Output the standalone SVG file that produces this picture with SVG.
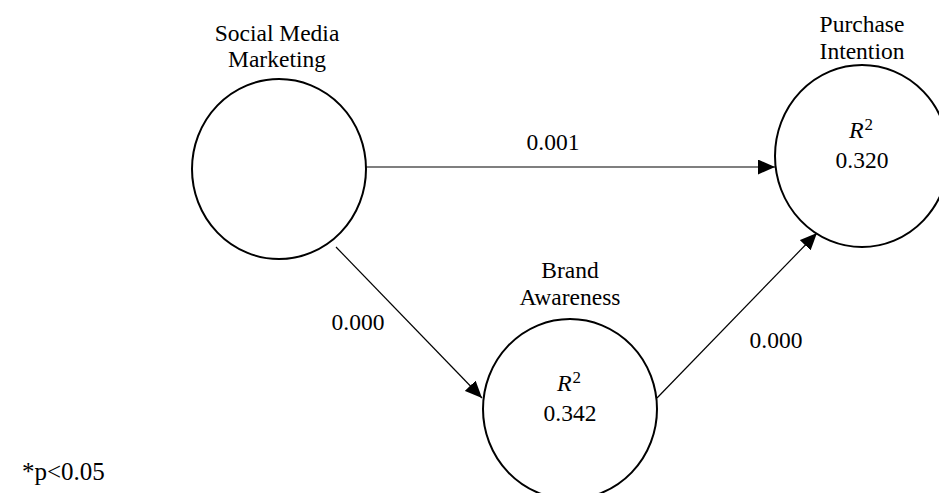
<svg xmlns="http://www.w3.org/2000/svg" width="939" height="493" viewBox="0 0 939 493">
<defs>
<style>
text{font-family:"Liberation Serif","Times New Roman",serif;font-size:23.5px;fill:#000;text-anchor:middle}
.node{fill:#fff;stroke:#000;stroke-width:2}
.edge{stroke:#000;stroke-width:1.2;fill:none;marker-end:url(#arr)}
.r{font-style:italic;font-size:24px}
.sup{font-style:normal;font-size:17px}
</style>
<marker id="arr" markerWidth="17" markerHeight="15" refX="17" refY="7.5" orient="auto" markerUnits="userSpaceOnUse">
<path d="M0,0 L17,7.5 L0,15 Z" fill="#000"/>
</marker>
</defs>
<rect width="939" height="493" fill="#fff"/>
<g id="connectors">
<line class="edge" x1="366" y1="167" x2="775" y2="167"/>
<line class="edge" x1="336" y1="247" x2="482" y2="398"/>
<line class="edge" x1="657" y1="398" x2="817" y2="233"/>
<text x="553" y="150">0.001</text>
<text x="358" y="330">0.000</text>
<text x="776" y="348">0.000</text>
</g>
<g id="smm">
<ellipse class="node" cx="279" cy="169" rx="87" ry="90"/>
<text x="277" y="41">Social Media</text>
<text x="277" y="67">Marketing</text>
</g>
<g id="pi">
<ellipse class="node" cx="862" cy="156" rx="87" ry="91"/>
<text x="862" y="32">Purchase</text>
<text x="862" y="59">Intention</text>
<text x="861" y="138"><tspan class="r">R</tspan><tspan class="sup" dx="1" dy="-8">2</tspan></text>
<text x="862" y="168">0.320</text>
</g>
<g id="ba">
<ellipse class="node" cx="570" cy="409" rx="87" ry="90"/>
<text x="570" y="278">Brand</text>
<text x="570" y="305">Awareness</text>
<text x="569" y="391"><tspan class="r">R</tspan><tspan class="sup" dx="1" dy="-8">2</tspan></text>
<text x="570" y="421">0.342</text>
</g>
<text x="22" y="480" style="text-anchor:start;font-size:25px">*p&lt;0.05</text>
</svg>
